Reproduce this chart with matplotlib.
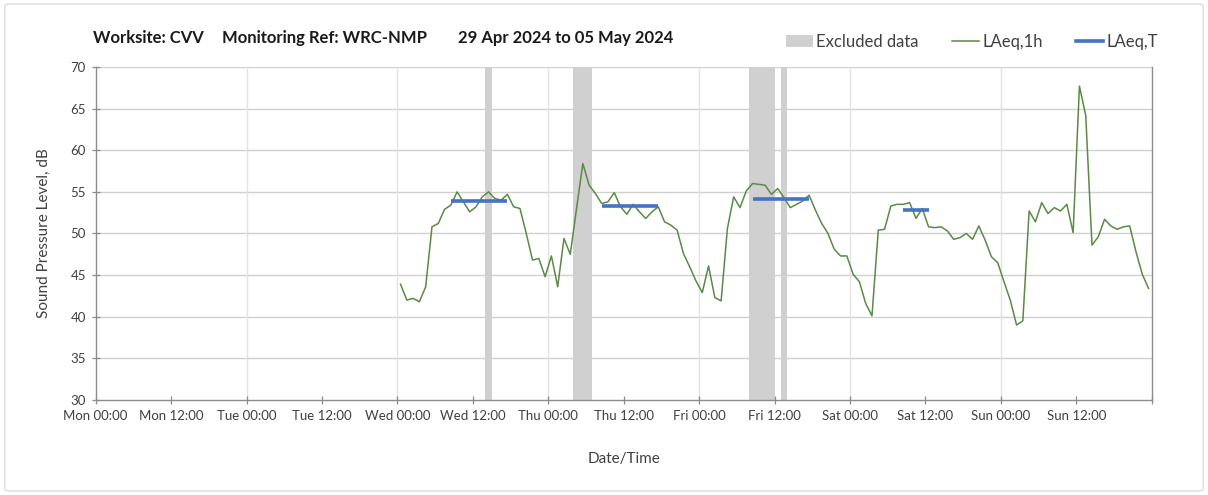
import numpy as np
import matplotlib
matplotlib.use("Agg")
import matplotlib.pyplot as plt
from matplotlib.patches import Patch, FancyBboxPatch
from matplotlib.lines import Line2D

plt.rcParams["font.family"] = ["Lato", "DejaVu Sans"]

# hourly LAeq,1h from Wed 00:00 (hour 48) to Sun 23:00 (hour 167), hours since Mon 00:00
hours = np.arange(48, 168)
laeq_1h = [
    43.9, 42.0, 42.2, 41.8, 43.6, 50.8, 51.2, 52.9, 53.4, 55.0, 53.8, 52.6,   # Wed 00-11
    53.2, 54.4, 55.0, 54.2, 54.0, 54.7, 53.2, 53.0, 50.0, 46.8, 47.0, 44.8,   # Wed 12-23
    47.3, 43.6, 49.4, 47.5, 53.0, 58.4, 55.8, 54.8, 53.6, 53.8, 54.9, 53.2,   # Thu 00-11
    52.3, 53.5, 52.6, 51.8, 52.6, 53.2, 51.4, 51.0, 50.4, 47.6, 46.0, 44.3,   # Thu 12-23
    42.9, 46.1, 42.3, 41.9, 50.6, 54.4, 53.1, 55.1, 56.0, 55.9, 55.8, 54.7,   # Fri 00-11
    55.4, 54.3, 53.1, 53.5, 53.9, 54.6, 52.8, 51.2, 50.0, 48.1, 47.3, 47.3,   # Fri 12-23
    45.1, 44.2, 41.6, 40.1, 50.4, 50.5, 53.3, 53.5, 53.5, 53.7, 51.8, 53.0,   # Sat 00-11
    50.8, 50.7, 50.8, 50.3, 49.3, 49.5, 50.0, 49.3, 50.9, 49.2, 47.2, 46.5,   # Sat 12-23
    44.2, 42.0, 39.0, 39.5, 52.7, 51.4, 53.7, 52.4, 53.1, 52.7, 53.5, 50.1,   # Sun 00-11
    67.7, 64.2, 48.6, 49.6, 51.7, 50.9, 50.5, 50.8, 50.9, 47.8, 45.1, 43.4,   # Sun 12-23
]

# LAeq,T daytime periods (start hour, end hour, level)
period_start = [56, 80, 104, 128]
period_end = [65, 89, 113, 132]
laeq_t = [53.9, 53.3, 54.1, 52.8]

# excluded data periods (start hour, end hour)
excl_start = [62, 76, 104, 109]
excl_end = [63, 79, 108, 110]

tick_hours = list(range(0, 169, 12))
tick_labels = ["Mon 00:00", "Mon 12:00", "Tue 00:00", "Tue 12:00", "Wed 00:00",
               "Wed 12:00", "Thu 00:00", "Thu 12:00", "Fri 00:00", "Fri 12:00",
               "Sat 00:00", "Sat 12:00", "Sun 00:00", "Sun 12:00", ""]

green = "#5b8a47"
blue = "#4472c4"
grey_band = "#d0d0d0"
axis_grey = "#8c8c8c"
text_col = "#404040"

fig = plt.figure(figsize=(12.08, 4.95), dpi=100)
ax = fig.add_axes([0.0792, 0.192, 0.8742, 0.6727])

# light frame round the chart
fig.patches.append(FancyBboxPatch((0.004, 0.008), 0.992, 0.984, boxstyle="round,pad=0,rounding_size=0.004",
                                  transform=fig.transFigure, facecolor="none",
                                  edgecolor="#dcdcdc", linewidth=1.0))

for s, e in zip(excl_start, excl_end):
    ax.axvspan(s, e, color=grey_band, linewidth=0, zorder=1)

# values plotted at the centre of each hour
ax.plot(hours + 0.5, laeq_1h, color=green, linewidth=1.1, zorder=3)
for s, e, v in zip(period_start, period_end, laeq_t):
    ax.plot([s + 0.5, e + 0.5], [v, v], color=blue, linewidth=2.6,
            solid_capstyle="butt", zorder=4)

ax.set_xlim(0, 168)
ax.set_ylim(30, 70)
ax.set_xticks(tick_hours)
ax.set_xticklabels(tick_labels, fontsize=9.5, color=text_col)
ax.set_yticks(range(30, 71, 5))
ax.set_yticklabels([str(v) for v in range(30, 71, 5)], fontsize=9.5, color=text_col)
ax.tick_params(axis="both", direction="inout", length=6, width=0.9, color=axis_grey, pad=4)

for v in range(35, 71, 5):
    ax.axhline(v, color="#d0d0d0", linewidth=1.0, zorder=0)
for d in range(24, 168, 24):
    ax.axvline(d, color="#e2e2e2", linewidth=1.0, zorder=0)

for side in ["left", "bottom", "right"]:
    ax.spines[side].set_color(axis_grey)
    ax.spines[side].set_linewidth(1.0)
ax.spines["top"].set_visible(False)

ax.set_ylabel("Sound Pressure Level, dB", fontsize=11, color=text_col, labelpad=14)
ax.set_xlabel("Date/Time", fontsize=11, color=text_col, labelpad=22)

# header
fig.text(93 / 1208, 1 - 38 / 495, "Worksite: CVV", fontsize=12, fontweight="bold",
         color="#1a1a1a", va="center", ha="left")
fig.text(222 / 1208, 1 - 38 / 495, "Monitoring Ref: WRC-NMP", fontsize=12, fontweight="bold",
         color="#1a1a1a", va="center", ha="left")
fig.text(458 / 1208, 1 - 38 / 495, "29 Apr 2024 to 05 May 2024", fontsize=12, fontweight="bold",
         color="#1a1a1a", va="center", ha="left")

handles = [Patch(facecolor=grey_band, edgecolor="none"),
           Line2D([], [], color=green, linewidth=1.1),
           Line2D([], [], color=blue, linewidth=2.6)]
fig.legend(handles, ["Excluded data", "LAeq,1h", "LAeq,T"], loc="center",
           bbox_to_anchor=(972 / 1208, 1 - 42 / 495), ncol=3, frameon=False,
           fontsize=12, handlelength=1.6, handletextpad=0.2, columnspacing=2.0,
           labelcolor=text_col)

fig.savefig("out.png", dpi=100)
plt.close(fig)
